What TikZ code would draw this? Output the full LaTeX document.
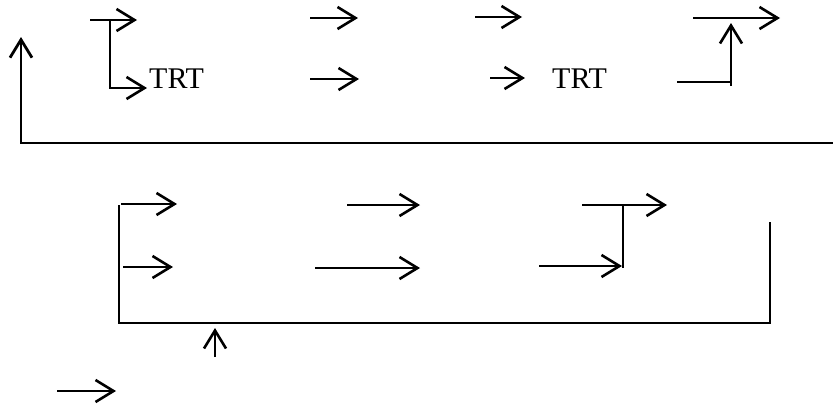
\documentclass[tikz,border=0pt]{standalone}
\usepackage{fontspec}
\setmainfont{Liberation Serif}
\usetikzlibrary{arrows.meta}
\begin{document}
\begin{tikzpicture}[x=1pt,y=-1pt,
  thin/.style={line width=2pt},
  arr/.style={line width=2.6pt,-{Straight Barb[length=18pt,width=22pt]}},
  lbl/.style={inner sep=0pt,anchor=base west,font=\fontsize{30}{34}\selectfont}]
\useasboundingbox (0,0) rectangle (833,405);
% coordinates top
\coordinate (a1s) at (90,20);  \coordinate (a1e) at (137,20);
\coordinate (v1t) at (110,20); \coordinate (v1b) at (110,88); \coordinate (t1e) at (147,88);
\coordinate (a2s) at (310,18); \coordinate (a2e) at (358,18);
\coordinate (a3s) at (310,79); \coordinate (a3e) at (359,79);
\coordinate (a4s) at (475,17); \coordinate (a4e) at (522,17);
\coordinate (a5s) at (490,78); \coordinate (a5e) at (525,78);
\coordinate (a6s) at (693,18); \coordinate (a6e) at (780,18);
\coordinate (h7s) at (677,82); \coordinate (h7e) at (731,82);
\coordinate (u7s) at (731,86); \coordinate (u7e) at (731,23);
\coordinate (Lr) at (833,143); \coordinate (Ll) at (21,143); \coordinate (Lt) at (21,37);
\node[lbl] (trt1) at (149,88) {TRT};
\node[lbl] (trt2) at (552,88) {TRT};
% top drawing
\draw[arr] (a1s) -- (a1e);
\draw[arr] (v1t) -- (v1b) -- (t1e);
\draw[arr] (a2s) -- (a2e);
\draw[arr] (a3s) -- (a3e);
\draw[arr] (a4s) -- (a4e);
\draw[arr] (a5s) -- (a5e);
\draw[arr] (a6s) -- (a6e);
\draw[thin] (h7s) -- (h7e);
\draw[arr] (u7s) -- (u7e);
\draw[arr,line width=2.8pt] (Lr) -- (Ll) -- (Lt);
% coordinates bottom
\coordinate (Br) at (770,222); \coordinate (Bbr) at (770,323);
\coordinate (Bbl) at (119,323); \coordinate (Btl) at (119,205);
\coordinate (b1s) at (121,204); \coordinate (b1e) at (177,204);
\coordinate (b2s) at (123,267); \coordinate (b2e) at (173,267);
\coordinate (b3s) at (347,205); \coordinate (b3e) at (420,205);
\coordinate (b4s) at (315,268); \coordinate (b4e) at (420,268);
\coordinate (b5s) at (582,205); \coordinate (b5e) at (667,205);
\coordinate (v5t) at (623,205); \coordinate (v5b) at (623,268);
\coordinate (b6s) at (539,266); \coordinate (b6e) at (622,266);
\coordinate (u8s) at (215,357); \coordinate (u8e) at (215,328);
\coordinate (b9s) at (57,391);  \coordinate (b9e) at (116,391);
% bottom drawing
\draw[thin] (Br) -- (Bbr) -- (Bbl) -- (Btl);
\draw[arr] (b1s) -- (b1e);
\draw[arr] (b2s) -- (b2e);
\draw[arr] (b3s) -- (b3e);
\draw[arr] (b4s) -- (b4e);
\draw[arr] (b5s) -- (b5e);
\draw[thin] (v5t) -- (v5b);
\draw[arr] (b6s) -- (b6e);
\draw[arr] (u8s) -- (u8e);
\draw[arr] (b9s) -- (b9e);
\end{tikzpicture}
\end{document}
